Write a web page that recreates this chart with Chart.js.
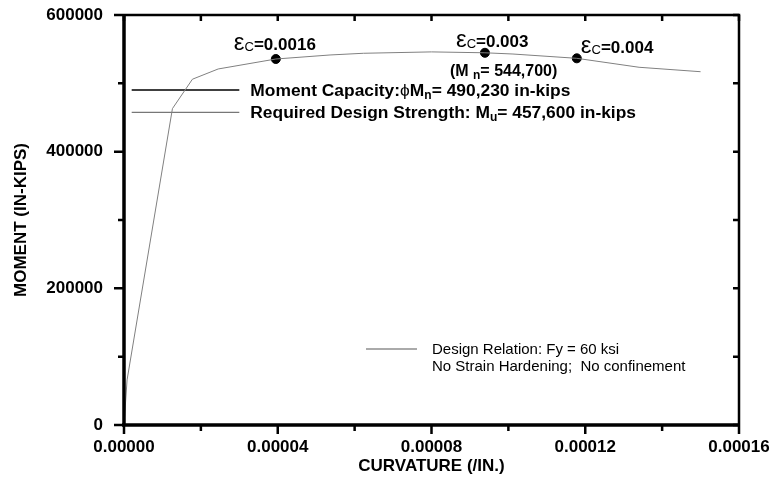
<!DOCTYPE html>
<html>
<head>
<meta charset="utf-8">
<script src="https://cdn.jsdelivr.net/npm/chart.js@4"></script>
<style>
  html, body { margin: 0; padding: 0; background: #fff; }
</style>
</head>
<body>
<canvas id="momentChart" width="773" height="495"></canvas>
<script>
// moment-curvature curve
const curvature = [0, 0.0000008, 0.0000126, 0.0000178, 0.0000245, 0.0000395, 0.0000536, 0.0000623, 0.00008, 0.0000939, 0.0001012, 0.0001178, 0.000134, 0.00015]
const moment = [0, 66000, 463000, 506000, 521000, 535600, 541500, 544000, 546000, 544700, 542900, 536600, 523500, 517000]

// strain markers on the curve
const markerCurvature = [0.0000395, 0.0000939, 0.0001178]
const markerMoment = [535600, 544700, 536600]
const markerStrain = ["0.0016", "0.003", "0.004"]

// design levels
const capacityMoment = 490230
const requiredMoment = 457600
const levelCurvature = [0.000002, 0.00003]

// axes
const xTicks = [0, 0.00004, 0.00008, 0.00012, 0.00016]
const xMinorTicks = [0.00002, 0.00006, 0.0001, 0.00014]
const yTicks = [0, 200000, 400000, 600000]
const yMinorTicks = [100000, 300000, 500000]

const FONT = "'Liberation Sans', Arial, sans-serif"

function drawRich(ctx, x, y, parts) {
  let cx = x
  parts.forEach(p => {
    ctx.font = p.font
    ctx.fillText(p.text, cx, y + (p.dy || 0))
    cx += ctx.measureText(p.text).width
  })
}

const framePlugin = {
  id: "frame",
  afterDatasetsDraw(chart) {
    const { ctx, chartArea } = chart
    const { left, top, right, bottom } = chartArea
    const xs = chart.scales.x
    const ys = chart.scales.y

    ctx.save()
    ctx.strokeStyle = "#000"
    ctx.fillStyle = "#000"

    // box
    ctx.lineWidth = 2.5
    ctx.beginPath()
    ctx.moveTo(left, top)
    ctx.lineTo(right, top)
    ctx.lineTo(right, bottom)
    ctx.stroke()
    ctx.lineWidth = 3.5
    ctx.beginPath()
    ctx.moveTo(left, top - 1)
    ctx.lineTo(left, bottom + 1)
    ctx.moveTo(left - 2, bottom)
    ctx.lineTo(right + 1, bottom)
    ctx.stroke()

    // tick marks
    ctx.lineWidth = 2.5
    ctx.beginPath()
    xTicks.forEach(v => {
      const px = xs.getPixelForValue(v)
      ctx.moveTo(px, bottom)
      ctx.lineTo(px, bottom + 9)
      ctx.moveTo(px, top)
      ctx.lineTo(px, top + 6)
    })
    xMinorTicks.forEach(v => {
      const px = xs.getPixelForValue(v)
      ctx.moveTo(px, bottom)
      ctx.lineTo(px, bottom + 6)
      ctx.moveTo(px, top)
      ctx.lineTo(px, top + 6)
    })
    yTicks.forEach(v => {
      const py = ys.getPixelForValue(v)
      ctx.moveTo(left, py)
      ctx.lineTo(left - 10, py)
      ctx.moveTo(right, py)
      ctx.lineTo(right - 6, py)
    })
    yMinorTicks.forEach(v => {
      const py = ys.getPixelForValue(v)
      ctx.moveTo(left, py)
      ctx.lineTo(left - 6, py)
      ctx.moveTo(right, py)
      ctx.lineTo(right - 6, py)
    })
    ctx.stroke()

    // strain labels at the markers
    ctx.textBaseline = "alphabetic"
    ctx.textAlign = "left"
    const labelShift = [[-42, -9], [-29, -6], [4, -5]]
    markerStrain.forEach((s, i) => {
      const px = xs.getPixelForValue(markerCurvature[i])
      const py = ys.getPixelForValue(markerMoment[i])
      drawRich(ctx, px + labelShift[i][0], py + labelShift[i][1], [
        { text: "ε", font: "24px " + FONT },
        { text: "C", font: "13px " + FONT, dy: 1 },
        { text: "=" + s, font: "bold 17px " + FONT }
      ])
    })

    // nominal moment under the 0.003 marker
    const mx = xs.getPixelForValue(markerCurvature[1])
    const my = ys.getPixelForValue(markerMoment[1])
    drawRich(ctx, mx - 35, my + 23, [
      { text: "(M ", font: "bold 16px " + FONT },
      { text: "n", font: "bold 12px " + FONT, dy: 3 },
      { text: "= 544,700)", font: "bold 16px " + FONT }
    ])

    // design level labels
    const lx = xs.getPixelForValue(levelCurvature[1]) + 11
    drawRich(ctx, lx, ys.getPixelForValue(capacityMoment) + 6, [
      { text: "Moment Capacity:", font: "bold 17.4px " + FONT },
      { text: "ϕ", font: "17.4px " + FONT },
      { text: "M", font: "bold 17.4px " + FONT },
      { text: "n", font: "bold 12px " + FONT, dy: 3 },
      { text: "= 490,230 in-kips", font: "bold 17.4px " + FONT }
    ])
    drawRich(ctx, lx, ys.getPixelForValue(requiredMoment) + 6, [
      { text: "Required Design Strength: M", font: "bold 17.4px " + FONT },
      { text: "u", font: "bold 12px " + FONT, dy: 3 },
      { text: "= 457,600 in-kips", font: "bold 17.4px " + FONT }
    ])

    // legend
    const gx = left + 242
    const gy = top + 334
    ctx.strokeStyle = "#aaaaaa"
    ctx.lineWidth = 2
    ctx.beginPath()
    ctx.moveTo(gx, gy)
    ctx.lineTo(gx + 51, gy)
    ctx.stroke()
    ctx.font = "15px " + FONT
    const legendLines = chart.data.datasets[0].label.split("\n")
    legendLines.forEach((t, i) => {
      ctx.fillText(t, gx + 66, gy + 5 + i * 17)
    })

    ctx.restore()
  }
}

const points = curvature.map((c, i) => ({ x: c, y: moment[i] }))
const markers = markerCurvature.map((c, i) => ({ x: c, y: markerMoment[i] }))

const config = {
  type: "scatter",
  data: {
    datasets: [
      {
        label: "Design Relation: Fy = 60 ksi\nNo Strain Hardening;  No confinement",
        data: points,
        showLine: true,
        borderColor: "#808080",
        borderWidth: 1,
        pointRadius: 0,
        tension: 0
      },
      {
        label: "Moment Capacity",
        data: levelCurvature.map(c => ({ x: c, y: capacityMoment })),
        showLine: true,
        borderColor: "#000000",
        borderWidth: 1.5,
        pointRadius: 0
      },
      {
        label: "Required Design Strength",
        data: levelCurvature.map(c => ({ x: c, y: requiredMoment })),
        showLine: true,
        borderColor: "#555555",
        borderWidth: 1,
        pointRadius: 0
      },
      {
        label: "Strain",
        data: markers,
        showLine: false,
        pointRadius: 4.5,
        pointBackgroundColor: "#000",
        pointBorderColor: "#000"
      }
    ]
  },
  options: {
    responsive: false,
    animation: false,
    layout: {
      padding: { top: 15, right: 34, bottom: 0, left: 0 }
    },
    scales: {
      x: {
        type: "linear",
        min: 0,
        max: 0.00016,
        afterFit: s => {
          s.height = 70
          s.paddingLeft = 0
          s.paddingRight = 0
        },
        afterBuildTicks: s => { s.ticks = xTicks.map(v => ({ value: v })) },
        grid: { display: false },
        border: { display: false },
        ticks: {
          autoSkip: false,
          maxRotation: 0,
          padding: 4,
          color: "#000",
          font: { family: FONT, size: 17, weight: "bold" },
          callback: v => v.toFixed(5)
        },
        title: {
          display: true,
          text: "CURVATURE (/IN.)",
          color: "#000",
          font: { family: FONT, size: 17, weight: "bold" },
          padding: { top: 0, bottom: 18 }
        }
      },
      y: {
        min: 0,
        max: 600000,
        afterFit: s => {
          s.width = 124
          s.paddingTop = 0
          s.paddingBottom = 0
        },
        afterBuildTicks: s => { s.ticks = yTicks.map(v => ({ value: v })) },
        grid: { display: false },
        border: { display: false },
        ticks: {
          padding: 13,
          color: "#000",
          font: { family: FONT, size: 17, weight: "bold" },
          callback: v => String(v)
        },
        title: {
          display: true,
          text: "MOMENT (IN-KIPS)",
          color: "#000",
          font: { family: FONT, size: 17, weight: "bold" },
          padding: { top: 11, bottom: 0 }
        }
      }
    },
    plugins: {
      legend: { display: false },
      tooltip: { enabled: false }
    }
  },
  plugins: [framePlugin]
}

new Chart(document.getElementById("momentChart"), config)
</script>
</body>
</html>
